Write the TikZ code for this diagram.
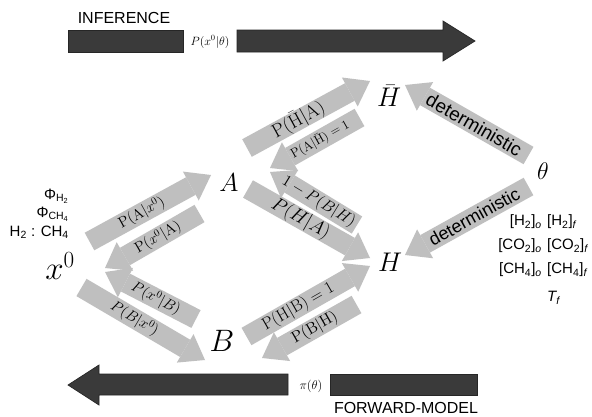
\RequirePackage{fix-cm}
\documentclass[tikz,border=0pt]{standalone}
\usepackage[no-math]{fontspec}
\setmainfont{Liberation Sans}
\usetikzlibrary{arrows.meta}
\definecolor{garr}{RGB}{191,191,191}
\definecolor{dbar}{RGB}{58,58,58}
\newcommand{\setfs}[1]{\fontsize{#1}{#1}\selectfont}
\tikzset{
  garrow/.style={draw=garr, line width=20pt, -{Triangle[width=33pt,length=23pt,line width=0pt]}},
  glab/.style={sloped, inner sep=0pt, text=black},
  dbarstyle/.style={fill=dbar, draw=black!85, line width=0.7pt},
  bigmath/.style={inner sep=0pt},
  sanslab/.style={inner sep=0pt, font=\setfs{16}},
  param/.style={inner sep=0pt, font=\setfs{15}},
}
\begin{document}
\begin{tikzpicture}[x=1pt,y=-1pt]
\useasboundingbox (0,0) rectangle (592,416);
\fill[white] (0,0) rectangle (592,416);

% dark bars
\draw[dbarstyle] (68,30) rectangle (183,52);
\draw[dbarstyle] (237,30) -- (443,30) -- (443,21) -- (475,41) -- (443,61) -- (443,52) -- (237,52) -- cycle;
\draw[dbarstyle] (288,374) -- (99,374) -- (99,365) -- (68,385) -- (99,405) -- (99,395) -- (288,395) -- cycle;
\draw[dbarstyle] (330,374) rectangle (477,395);

\node[sanslab] (inf) at (124,18) {INFERENCE};
\node[sanslab] (fwd) at (406,408) {FORWARD-MODEL};
\node[inner sep=0pt, font=\setfs{12}] (pxt) at (210,42) {$P(x^0|\theta)$};
\node[inner sep=0pt, font=\setfs{12.5}] (pit) at (311,386) {$\pi(\theta)$};

% main nodes
\node[bigmath, font=\setfs{33}] (x0) at (60,266) {$x^0$};
\node[bigmath, font=\setfs{26}] (A) at (229,183) {$A$};
\node[bigmath, font=\setfs{31}] (B) at (222,341) {$B$};
\node[bigmath, font=\setfs{27}] (Hb) at (389,96) {$\bar{H}$};
\node[bigmath, font=\setfs{27}] (H) at (390,262) {$H$};
\node[bigmath, font=\setfs{24}] (th) at (543,171) {$\theta$};

% parameters
\node[param, anchor=east] (p1) at (69,196) {Φ\textsubscript{H\textsubscript{2}}};
\node[param, anchor=east] (p2) at (69,214) {Φ\textsubscript{CH\textsubscript{4}}};
\node[param, anchor=east] (p3) at (69,232) {H\textsubscript{2} : CH\textsubscript{4}};

\node[param, anchor=east] (q1) at (542,222) {[H\textsubscript{2}]\textsubscript{\itshape o}};
\node[param, anchor=west] (q2) at (547,222) {[H\textsubscript{2}]\textsubscript{\itshape f}};
\node[param, anchor=east] (q3) at (542,246) {[CO\textsubscript{2}]\textsubscript{\itshape o}};
\node[param, anchor=west] (q4) at (547,246) {[CO\textsubscript{2}]\textsubscript{\itshape f}};
\node[param, anchor=east] (q5) at (542,270) {[CH\textsubscript{4}]\textsubscript{\itshape o}};
\node[param, anchor=west] (q6) at (547,270) {[CH\textsubscript{4}]\textsubscript{\itshape f}};
\node[param, anchor=west] (q7) at (547,298) {{\itshape T}\textsubscript{\itshape f}};

% arrow end points
\coordinate (t1) at (89.5,241.5);  \coordinate (h1) at (211,175);
\coordinate (t2) at (199.5,213.5); \coordinate (h2) at (105,268);
\coordinate (t3) at (196,319);     \coordinate (h3) at (105,272);
\coordinate (t4) at (81.5,287.5);  \coordinate (h4) at (205,360);
\coordinate (t5) at (247,148);     \coordinate (h5) at (370,81);
\coordinate (t6) at (359.5,117.5); \coordinate (h6) at (270,168);
\coordinate (t7) at (357,225);     \coordinate (h7) at (270,172);
\coordinate (t8) at (248,189);     \coordinate (h8) at (370,258);
\coordinate (t9) at (246.5,336.5); \coordinate (h9) at (370,266);
\coordinate (t10) at (356.5,304.5);\coordinate (h10) at (262,358);
\coordinate (t11) at (528.5,155.5);\coordinate (h11) at (405,85);
\coordinate (t12) at (528.5,186.5);\coordinate (h12) at (405,255);

% gray arrows
\draw[garrow] (t1) -- (h1) node[glab, pos=0.43, font=\setfs{15}] {$\mathrm{P}(\mathrm{A}|x^0)$};
\draw[garrow] (t2) -- (h2) node[glab, pos=0.44, font=\setfs{15}] {$\mathrm{P}(x^0|\mathrm{A})$};
\draw[garrow] (t3) -- (h3) node[glab, pos=0.44, font=\setfs{15}] {$P(x^0|B)$};
\draw[garrow] (t4) -- (h4) node[glab, pos=0.43, font=\setfs{15}] {$P(B|x^0)$};
\draw[garrow] (t5) -- (h5) node[glab, pos=0.42, font=\setfs{19}] {$\mathrm{P}(\bar{\mathrm{H}}|\mathrm{A})$};
\draw[garrow] (t6) -- (h6) node[glab, pos=0.44, font=\setfs{13}] {$\mathrm{P}(\mathrm{A}|\bar{\mathrm{H}})=1$};
\draw[garrow] (t7) -- (h7) node[glab, pos=0.44, font=\setfs{16}] {$1-P(B|H)$};
\draw[garrow] (t8) -- (h8) node[glab, pos=0.43, font=\setfs{19}] {$P(H|A)$};
\draw[garrow] (t9) -- (h9) node[glab, pos=0.42, font=\setfs{17}] {$\mathrm{P}(\mathrm{H}|\mathrm{B})=1$};
\draw[garrow] (t10) -- (h10) node[glab, pos=0.44, font=\setfs{16}] {$\mathrm{P}(\mathrm{B}|\mathrm{H})$};
\draw[garrow] (t11) -- (h11) node[glab, pos=0.44, font=\setfs{19}] {deterministic};
\draw[garrow] (t12) -- (h12) node[glab, pos=0.44, font=\setfs{18}] {deterministic};
\end{tikzpicture}
\end{document}
